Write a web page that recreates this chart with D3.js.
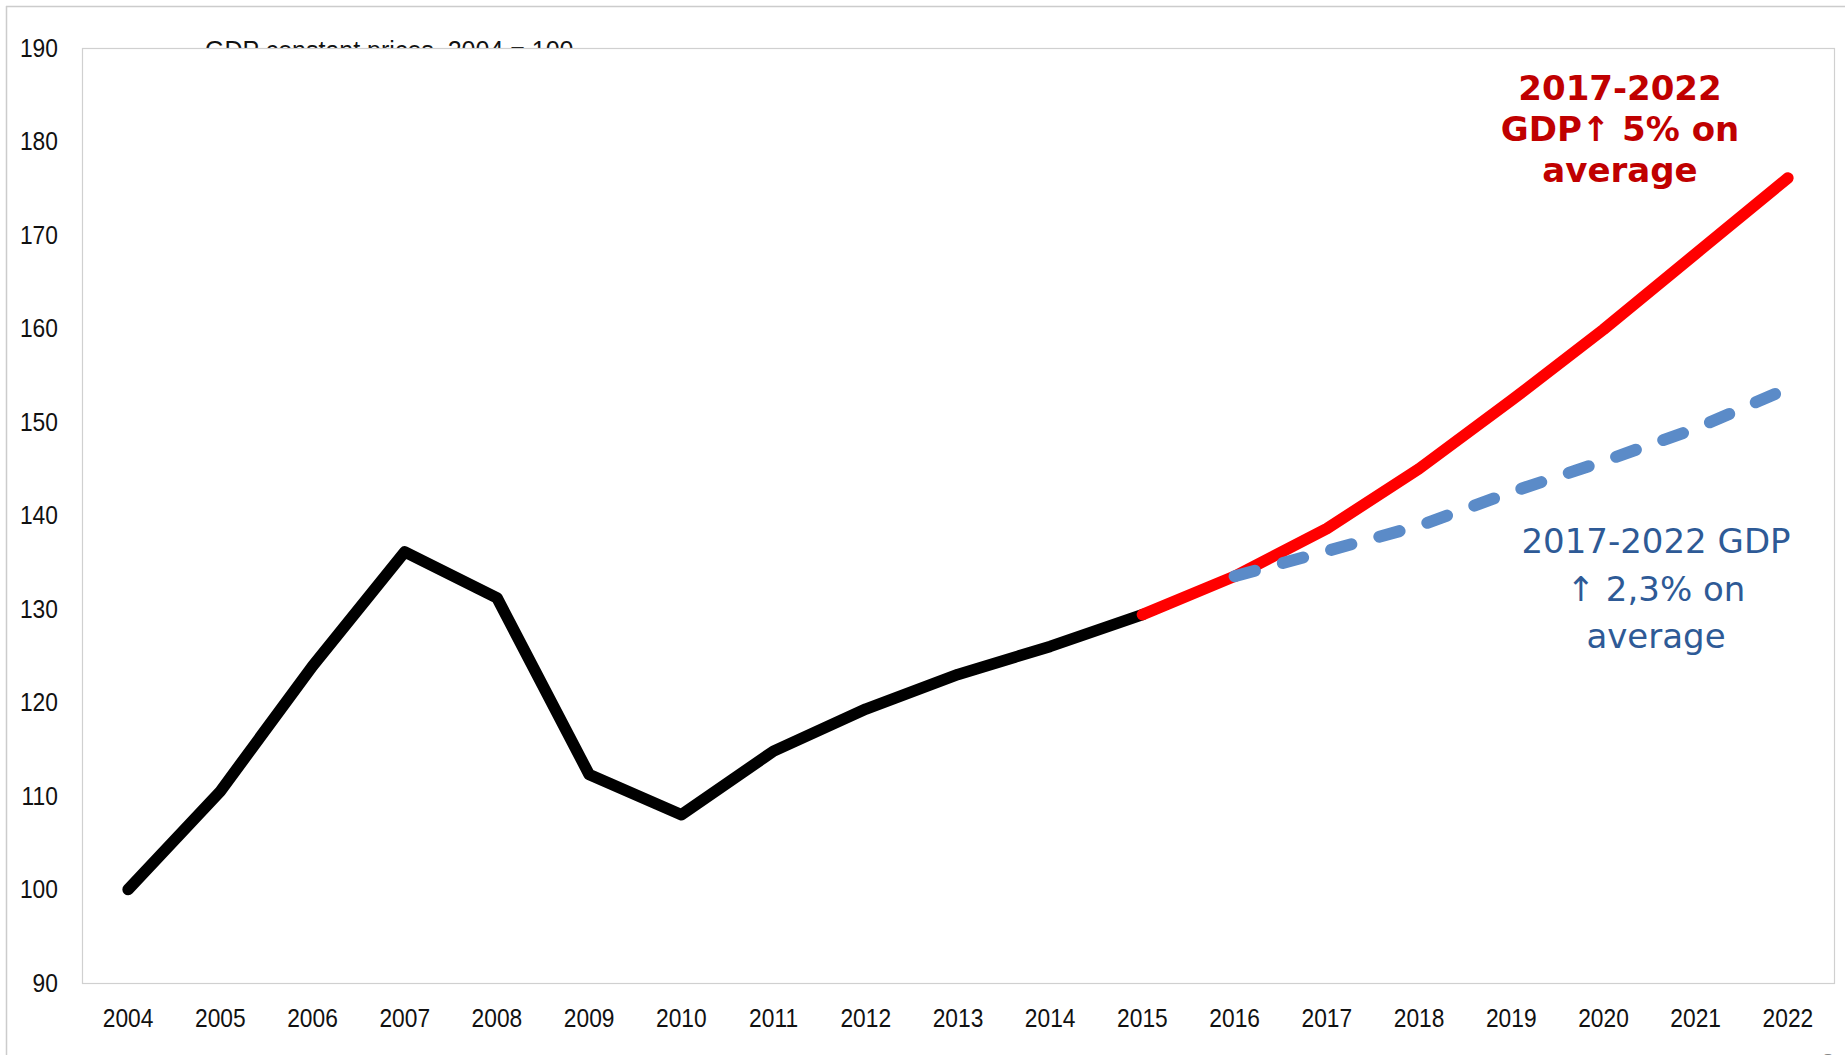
<!DOCTYPE html>
<html>
<head>
<meta charset="utf-8">
<script src="https://cdn.jsdelivr.net/npm/d3@7"></script>
<style>
  html, body { margin: 0; padding: 0; background: #fff; }
  svg { display: block; }
</style>
</head>
<body>
<svg id="chart" width="1845" height="1055"></svg>
<script>
// ---- Data ----
const years = ["2004","2005","2006","2007","2008","2009","2010","2011","2012","2013","2014","2015","2016","2017","2018","2019","2020","2021","2022"];
const histYears = ["2004","2005","2006","2007","2008","2009","2010","2011","2012","2013","2014","2015"];
const histValues = [100, 110.5, 123.9, 136.1, 131.2, 112.3, 108, 114.8, 119.3, 123, 126, 129.4];
const highYears = ["2015","2016","2017","2018","2019","2020","2021","2022"];
const highValues = [129.4, 133.5, 138.6, 145, 152.3, 159.9, 168, 176.1];
const lowYears = ["2016","2017","2018","2019","2020","2021","2022"];
const lowValues = [133.5, 136.2, 138.9, 142.5, 145.8, 149.3, 153.6];
const yTicks = [90, 100, 110, 120, 130, 140, 150, 160, 170, 180, 190];
const titleText = "GDP constant prices, 2004 = 100";
const redNote = ["2017-2022", "GDP\u2191 5% on", "average"];
const blueNote = ["2017-2022 GDP", "\u2191 2,3% on", "average"];

// ---- Layout ----
const svg = d3.select("#chart");
const L = 82, R = 1834, T = 48, B = 983;
const x = d3.scaleBand().domain(years).range([L, R]).padding(0);
const y = d3.scaleLinear().domain([90, 190]).range([B, T]);
const cx = d => x(d) + x.bandwidth() / 2;

// outer frame (top + left)
svg.append("line").attr("x1", 6).attr("y1", 6.5).attr("x2", 1845).attr("y2", 6.5)
  .attr("stroke", "#cccccc").attr("stroke-width", 1.5);
svg.append("line").attr("x1", 6.5).attr("y1", 6).attr("x2", 6.5).attr("y2", 1055)
  .attr("stroke", "#cccccc").attr("stroke-width", 1.5);

// title (partly hidden behind plot area)
svg.append("text").attr("x", 205).attr("y", 59)
  .attr("font-family", "Liberation Sans, Arial, sans-serif").attr("font-size", 25)
  .attr("fill", "#111").text(titleText);

// plot area
svg.append("rect").attr("x", L + 0.5).attr("y", T + 0.5).attr("width", R - L).attr("height", B - T)
  .attr("fill", "#fff").attr("stroke", "#d0d0d0").attr("stroke-width", 1.2);

// axes
const axisFont = "Liberation Sans, Arial, sans-serif";
const yAxis = svg.append("g").attr("transform", `translate(${L},0)`)
  .call(d3.axisLeft(y).tickValues(yTicks).tickSize(0).tickPadding(28).tickFormat(d3.format("d")));
yAxis.select(".domain").remove();
yAxis.selectAll("text").attr("font-family", axisFont).attr("font-size", 26.5).attr("fill", "#111")
  .attr("transform", "scale(0.86,1)");

const xAxis = svg.append("g").attr("transform", `translate(0,${B})`)
  .call(d3.axisBottom(x).tickSize(0).tickPadding(25));
xAxis.select(".domain").remove();
xAxis.selectAll("text").attr("font-family", axisFont).attr("font-size", 26.5).attr("fill", "#111")
  .attr("transform", "scale(0.86,1)");

// lines
const line = d3.line().x(d => cx(d[0])).y(d => y(d[1]));
const zip = (a, b) => a.map((k, i) => [k, b[i]]);

svg.append("path").datum(zip(histYears, histValues)).attr("d", line)
  .attr("fill", "none").attr("stroke", "#000").attr("stroke-width", 11.5)
  .attr("stroke-linejoin", "round").attr("stroke-linecap", "round");

svg.append("path").datum(zip(highYears, highValues)).attr("d", line)
  .attr("fill", "none").attr("stroke", "#ff0000").attr("stroke-width", 11.5)
  .attr("stroke-linejoin", "round").attr("stroke-linecap", "round");

svg.append("path").datum(zip(lowYears, lowValues)).attr("d", line)
  .attr("fill", "none").attr("stroke", "#5b8bc8").attr("stroke-width", 12)
  .attr("stroke-linejoin", "round").attr("stroke-linecap", "round")
  .attr("stroke-dasharray", "21,29");

// annotations
const red = svg.append("text").attr("text-anchor", "middle")
  .attr("font-family", "DejaVu Sans, Verdana, sans-serif").attr("font-weight", "bold")
  .attr("font-size", 34).attr("fill", "#c00000");
redNote.forEach((t, i) => red.append("tspan").attr("x", 1620).attr("y", 100 + i * 41).text(t));

const blue = svg.append("text").attr("text-anchor", "middle")
  .attr("font-family", "DejaVu Sans, Verdana, sans-serif")
  .attr("font-size", 34).attr("fill", "#2e5a96");
blueNote.forEach((t, i) => blue.append("tspan").attr("x", 1656).attr("y", 553 + i * 47.5).text(t));

// page number, clipped at the bottom edge (as in the reference)
svg.append("text").attr("x", 1828).attr("y", 1072).attr("text-anchor", "middle")
  .attr("font-family", axisFont).attr("font-size", 26).attr("fill", "#888").text("3");
</script>
</body>
</html>
